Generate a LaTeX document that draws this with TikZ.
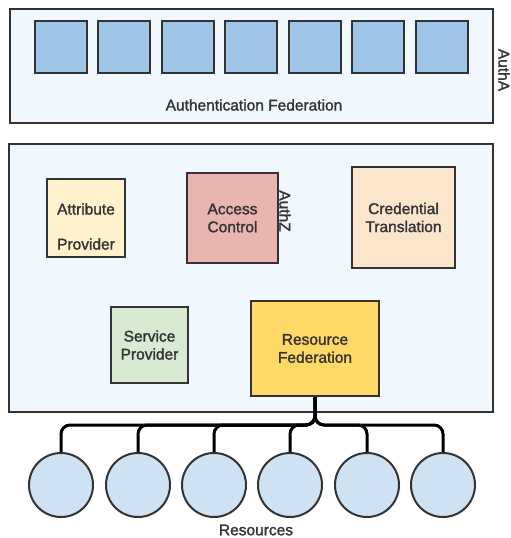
\documentclass[tikz,border=0pt]{standalone}
\usepackage{fontspec}
\setmainfont{Liberation Sans}
\newfontfamily\lblfont{Liberation Sans}[FakeBold=1.6]
\definecolor{txt}{HTML}{333333}
\definecolor{edge}{HTML}{333333}
\definecolor{framefill}{HTML}{F0F8FE}
\definecolor{idpfill}{HTML}{9FC5E8}
\definecolor{attrfill}{HTML}{FFF2CC}
\definecolor{aclfill}{HTML}{E8B5B0}
\definecolor{credfill}{HTML}{FCE5CD}
\definecolor{spfill}{HTML}{D9EAD3}
\definecolor{rffill}{HTML}{FFD966}
\definecolor{resfill}{HTML}{CFE2F3}
\begin{document}
\begin{tikzpicture}[x=1pt,y=-1pt,
  lbl/.style={text=txt, font=\lblfont\fontsize{15.5}{18}\selectfont},
  frame/.style={draw=edge, line width=1.5pt, fill=framefill},
  blk/.style={draw=edge, line width=2pt, inner sep=0pt, align=center,
              text=txt, font=\lblfont\fontsize{15.5}{18}\selectfont},
  idp/.style={blk, fill=idpfill, minimum width=52pt, minimum height=52pt},
  res/.style={circle, draw=edge, line width=2pt, fill=resfill,
              minimum size=64pt, inner sep=0pt},
  bus/.style={draw=black, line width=3pt, rounded corners=9pt}]
\useasboundingbox (0,0) rectangle (511,538);

% authentication federation frame with identity providers
\node[frame, minimum width=483pt, minimum height=114pt, inner sep=0pt] (authn) at (251.5,66) {};
\foreach \i in {1,...,7} {
  \node[idp] (idp\i) at ({60.5+63.5*(\i-1)},47) {};
}
\node[lbl] (authnlbl) at (254,105) {Authentication Federation};
\node[lbl, rotate=-90] (autha) at (504,70) {AuthA};

% authorization frame
\node[frame, minimum width=484pt, minimum height=268pt, inner sep=0pt] (authz) at (251,278) {};

\node[blk, fill=attrfill, minimum width=78pt, minimum height=78pt] (attr) at (86,218) {};
\node[lbl] (attr1) at (86,209) {Attribute};
\node[lbl] (attr2) at (86,244) {Provider};

\node[blk, fill=aclfill, minimum width=91pt, minimum height=90pt] (acl) at (232.5,218) {Access\\Control};
\node[lbl, rotate=-90] (authzlbl) at (285,211) {AuthZ};

\node[blk, fill=credfill, minimum width=103pt, minimum height=101pt] (cred) at (403.5,217.5) {Credential\\Translation};

\node[blk, fill=spfill, minimum width=77pt, minimum height=76pt] (sp) at (149.5,345) {Service\\Provider};

\node[blk, fill=rffill, minimum width=128pt, minimum height=95pt] (rf) at (315,348.5) {Resource\\Federation};

% resources
\foreach \i/\x in {1/61,2/138,3/214,4/290,5/367,6/443} {
  \node[res] (r\i) at (\x,485) {};
}
\node[lbl] (reslbl) at (256,530) {Resources};

% bus from the resource federation to every resource
\coordinate (tap) at (315,425);
\foreach \i in {1,...,6} {
  \draw[bus] (rf.south) -- (tap) -| (r\i.north);
}
\end{tikzpicture}
\end{document}
